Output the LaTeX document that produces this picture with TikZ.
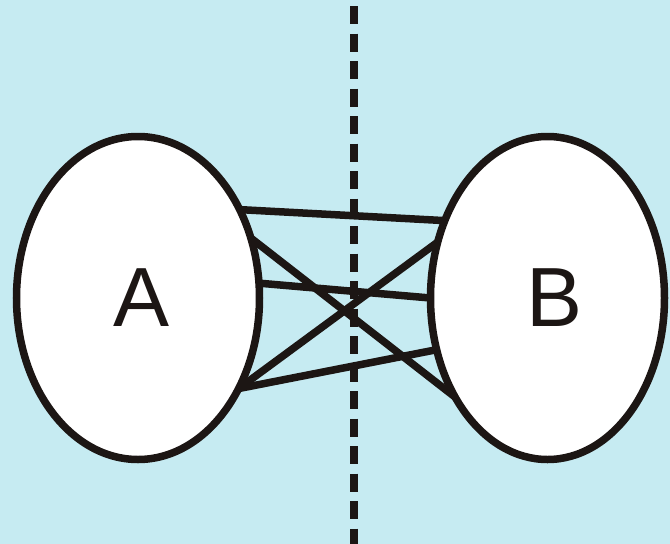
\documentclass[tikz,border=0pt]{standalone}
\usepackage{fontspec}
\setmainfont{Liberation Sans}
\usetikzlibrary{shapes.geometric}
\definecolor{bgblue}{RGB}{198,235,242}
\definecolor{ink}{RGB}{28,22,20}
\begin{document}
\begin{tikzpicture}[x=1pt,y=-1pt,
  setbox/.style={ellipse,draw=ink,fill=white,line width=7.5pt,inner sep=0pt,outer sep=0pt,
    font=\fontsize{84}{84}\selectfont,text=ink},
  link/.style={draw=ink,line width=7.5pt},
  divider/.style={draw=ink,line width=8pt,dash pattern=on 18pt off 9.5pt,dash phase=21.5pt}]
\fill[bgblue] (0,0) rectangle (670,544);
\useasboundingbox (0,0) rectangle (670,544);
\coordinate (top) at (354,0);
\coordinate (bot) at (354,544);
\draw[divider] (top) -- (bot);
\node[setbox,minimum width=243pt,minimum height=323pt] (A) at (138,298) {\hspace*{8pt}A};
\node[setbox,minimum width=234pt,minimum height=323pt] (B) at (547.5,298) {\hspace*{14pt}B};
\draw[link] (A.41) -- (B.143);
\draw[link] (A.28) -- (B.227);
\draw[link] (A.7) -- (B.180);
\draw[link] (A.-42) -- (B.153);
\draw[link] (A.-42) -- (B.205);
\end{tikzpicture}
\end{document}
